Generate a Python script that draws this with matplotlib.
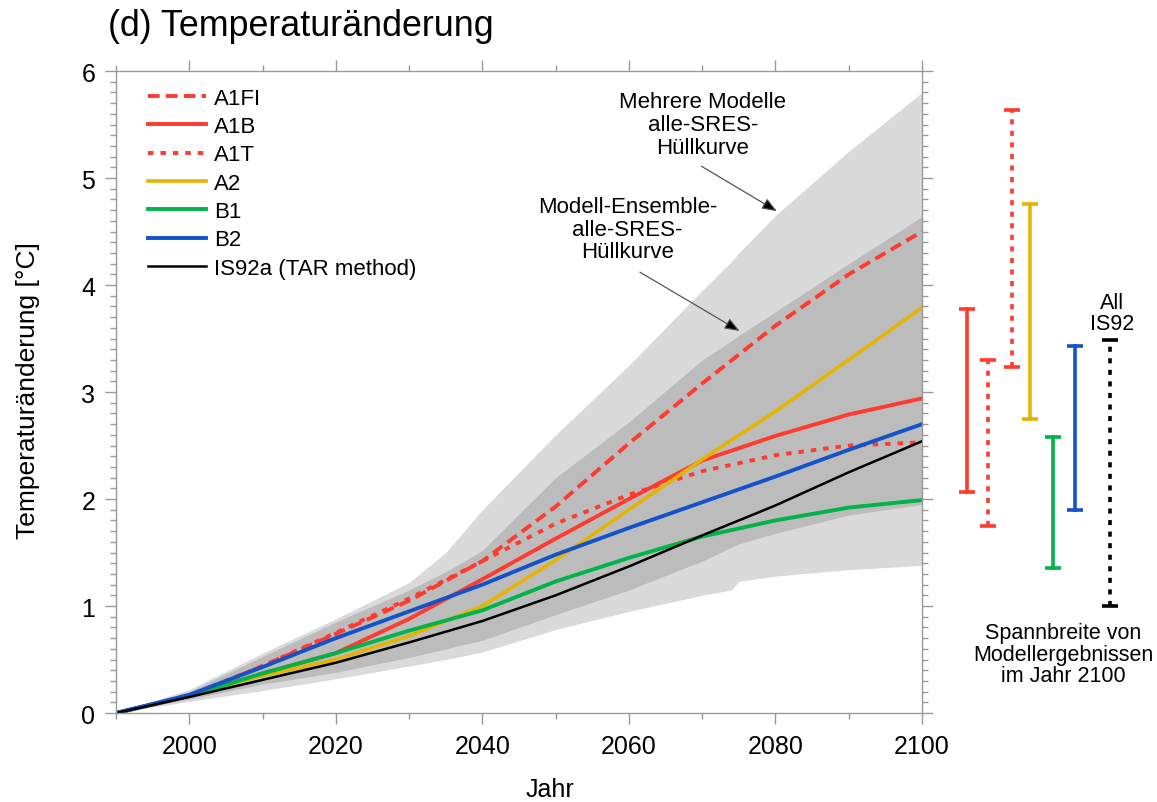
import matplotlib
matplotlib.use("Agg")
import matplotlib.pyplot as plt
import matplotlib.transforms as mtransforms
from matplotlib.ticker import MultipleLocator

plt.rcParams['font.family'] = ['Liberation Sans', 'DejaVu Sans']

# decadal values, degC relative to 1990
years = [1990, 2000, 2010, 2020, 2030, 2040, 2050, 2060, 2070, 2080, 2090, 2100]
a1fi = [0, 0.16, 0.44, 0.74, 1.05, 1.42, 1.93, 2.52, 3.08, 3.62, 4.10, 4.50]
a1b = [0, 0.16, 0.37, 0.56, 0.88, 1.25, 1.63, 2.00, 2.36, 2.59, 2.79, 2.94]
a1t = [0, 0.16, 0.44, 0.75, 1.07, 1.42, 1.77, 2.04, 2.26, 2.41, 2.50, 2.53]
a2 = [0, 0.16, 0.35, 0.50, 0.72, 1.00, 1.43, 1.90, 2.37, 2.82, 3.30, 3.79]
b1 = [0, 0.16, 0.37, 0.56, 0.77, 0.96, 1.23, 1.45, 1.65, 1.80, 1.92, 1.99]
b2 = [0, 0.17, 0.43, 0.70, 0.95, 1.20, 1.48, 1.73, 1.97, 2.21, 2.46, 2.70]
is92a = [0, 0.15, 0.31, 0.47, 0.66, 0.86, 1.10, 1.37, 1.66, 1.94, 2.25, 2.54]

# envelopes
env_years = [1990, 2000, 2010, 2020, 2030, 2035, 2040, 2050, 2060, 2070, 2074, 2075, 2080, 2090, 2100]
outer_hi = [0, 0.22, 0.56, 0.88, 1.22, 1.50, 1.90, 2.60, 3.25, 3.95, 4.22, 4.30, 4.65, 5.25, 5.80]
outer_lo = [0, 0.11, 0.21, 0.32, 0.44, 0.50, 0.57, 0.78, 0.95, 1.10, 1.15, 1.23, 1.28, 1.34, 1.38]
inner_hi = [0, 0.20, 0.53, 0.85, 1.15, 1.32, 1.52, 2.20, 2.72, 3.30, 3.48, 3.53, 3.75, 4.20, 4.64]
inner_lo = [0, 0.13, 0.27, 0.38, 0.52, 0.60, 0.68, 0.92, 1.15, 1.42, 1.55, 1.58, 1.68, 1.85, 1.95]

# model ranges in 2100
bar_names = ['A1B', 'A1T', 'A1FI', 'A2', 'B1', 'B2', 'IS92']
bar_lo = [2.07, 1.75, 3.23, 2.75, 1.36, 1.90, 1.00]
bar_hi = [3.78, 3.30, 5.64, 4.76, 2.58, 3.43, 3.49]

RED = '#ff3a2e'
YEL = '#e6b400'
GRN = '#00b34a'
BLU = '#1352c8'
DASH = (3.0, 1.6)
DOT = (1.4, 1.8)

fig = plt.figure(figsize=(11.57, 8.03), dpi=100)
ax = fig.add_axes([0.1003, 0.1108, 0.6966, 0.7995])

ax.fill_between(env_years, outer_lo, outer_hi, color='#dadada', lw=0)
ax.fill_between(env_years, inner_lo, inner_hi, color='#bcbcbc', lw=0)

ax.plot(years, a1fi, color=RED, lw=2.8, dashes=DASH, label='A1FI')
ax.plot(years, a1b, color=RED, lw=2.8, label='A1B')
ax.plot(years, a1t, color=RED, lw=2.8, dashes=DOT, label='A1T')
ax.plot(years, a2, color=YEL, lw=2.6, label='A2')
ax.plot(years, b1, color=GRN, lw=2.8, label='B1')
ax.plot(years, b2, color=BLU, lw=2.8, label='B2')
ax.plot(years, is92a, color='black', lw=1.8, label='IS92a (TAR method)')

ax.set_xlim(1990, 2100)
ax.set_ylim(0, 6)
ax.xaxis.set_major_locator(MultipleLocator(20))
ax.xaxis.set_minor_locator(MultipleLocator(10))
ax.yaxis.set_major_locator(MultipleLocator(1))
ax.yaxis.set_minor_locator(MultipleLocator(0.1))
ax.set_xticks([2000, 2020, 2040, 2060, 2080, 2100])
ax.tick_params(which='both', direction='out', top=True, right=True,
               color='#999999', width=1)
ax.tick_params(which='major', length=8, labelsize=18, pad=7)
ax.tick_params(which='minor', length=4)
for s in ax.spines.values():
    s.set_color('#999999')
    s.set_linewidth(1)

leg = ax.legend(loc='upper left', bbox_to_anchor=(0.04, 0.974), frameon=False,
                fontsize=16, handlelength=2.6, handletextpad=0.35,
                labelspacing=0.33, borderpad=0, borderaxespad=0)

ax.text(2070.1, 5.5, 'Mehrere Modelle\nalle-SRES-\nHüllkurve', fontsize=16,
        ha='center', va='center', linespacing=1.1)
ax.text(2059.8, 4.52, 'Modell-Ensemble-\nalle-SRES-\nHüllkurve', fontsize=16,
        ha='center', va='center', linespacing=1.1)
arrow = dict(arrowstyle='-|>,head_length=0.9,head_width=0.35', fc='black',
             ec='#555555', lw=0.9, shrinkA=0, shrinkB=0)
ax.annotate('', xy=(2080.2, 4.69), xytext=(2069.9, 5.11), arrowprops=arrow)
ax.annotate('', xy=(2075.1, 3.57), xytext=(2061.5, 4.12), arrowprops=arrow)

# range bars to the right of the axes
trans = mtransforms.blended_transform_factory(ax.transAxes, ax.transData)
bar_x = [1.0558, 1.0819, 1.1117, 1.1340, 1.1625, 1.1898, 1.2333]
bar_col = [RED, RED, RED, YEL, GRN, BLU, 'black']
bar_dash = [None, DOT, DOT, None, None, None, DOT]
for x, lo, hi, c, d in zip(bar_x, bar_lo, bar_hi, bar_col, bar_dash):
    kw = dict(dashes=d) if d else {}
    ax.plot([x, x], [lo, hi], color=c, lw=2.6, transform=trans, clip_on=False, **kw)
    ax.plot([x, x], [lo, hi], ls='none', marker='_', ms=11, mew=2.6, color=c,
            transform=trans, clip_on=False)

ax.text(1.236, 3.74, 'All\nIS92', transform=trans, fontsize=15.5, ha='center',
        va='center', linespacing=1.0)
fig.text(1063 / 1157, 1 - 655 / 803, 'Spannbreite von\nModellergebnissen\nim Jahr 2100',
         fontsize=15.5, ha='center', va='center', linespacing=1.05)

fig.text(108 / 1157, 1 - 27 / 803, '(d) Temperaturänderung', fontsize=25.8,
         ha='left', va='center')
fig.text(28 / 1157, 1 - 391 / 803, 'Temperaturänderung [°C]', fontsize=19,
         rotation=90, ha='center', va='center')
fig.text(550 / 1157, 1 - 790 / 803, 'Jahr', fontsize=18, ha='center', va='center')

fig.savefig('out.png', dpi=100)
